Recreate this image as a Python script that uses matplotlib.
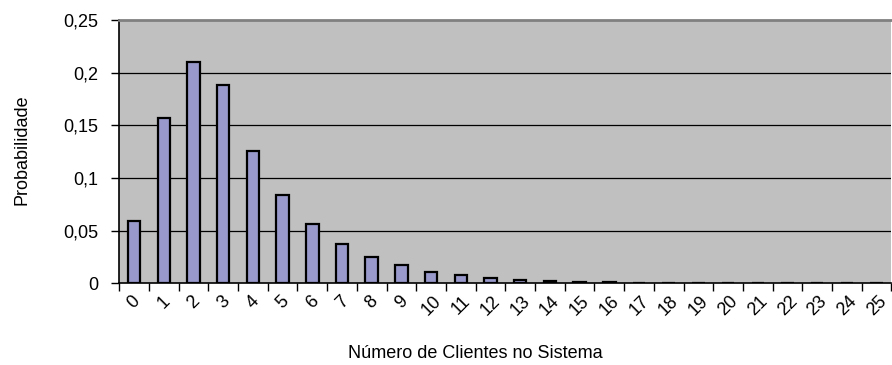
import numpy as np
import matplotlib.pyplot as plt
from matplotlib.ticker import FixedLocator, FuncFormatter

plt.rcParams["font.family"] = ["Liberation Sans", "DejaVu Sans"]

clientes = list(range(26))
probabilidade = [0.059, 0.157, 0.210, 0.188, 0.126, 0.084, 0.056, 0.037,
                 0.025, 0.017, 0.011, 0.0078, 0.0052, 0.0035, 0.0023, 0.0015,
                 0.0010, 0.0007, 0.00045, 0.0003, 0.0002, 0.00013, 0.00009,
                 0.00006, 0.00004, 0.00003]
y_ticks = [0, 0.05, 0.1, 0.15, 0.2, 0.25]

fig = plt.figure(figsize=(8.92, 3.65), dpi=100)
ax = fig.add_axes([0.1337, 0.2238, 0.8657, 0.7214])
ax.set_facecolor("#C0C0C0")

ax.bar(clientes, probabilidade, width=0.42, color="#9999CC",
       edgecolor="black", linewidth=1.6, zorder=3)

ax.set_xlim(-0.5, 25.5)
ax.set_ylim(0, 0.25)

# horizontal grid
for v in y_ticks[1:-1]:
    ax.axhline(v, color="black", linewidth=0.9, zorder=1)

ax.yaxis.set_major_locator(FixedLocator(y_ticks))
ax.yaxis.set_major_formatter(FuncFormatter(
    lambda v, p: "0" if v == 0 else f"{v:g}".replace(".", ",")))
ax.tick_params(axis="y", direction="out", length=6, width=1,
               labelsize=13, pad=9, colors="black")

# category labels at centres, tick marks between categories
ax.set_xticks(clientes)
ax.set_xticklabels([str(c) for c in clientes], rotation=45,
                   ha="center", va="top")
ax.set_xticks(np.arange(-0.5, 26, 1), minor=True)
ax.tick_params(axis="x", which="major", length=0, labelsize=13, pad=7)
ax.tick_params(axis="x", which="minor", direction="out", length=6, width=1)

for s in ["left", "bottom"]:
    ax.spines[s].set_color("black")
    ax.spines[s].set_linewidth(1.2)
ax.spines["top"].set_color("#808080")
ax.spines["top"].set_linewidth(2)
ax.spines["right"].set_visible(False)

fig.text(22 / 892, 1 - 150 / 365, "Probabilidade", rotation=90,
         ha="center", va="center", fontsize=13)
fig.text(475 / 892, 1 - 353 / 365, "Número de Clientes no Sistema",
         ha="center", va="center", fontsize=13)

fig.savefig("out.png", dpi=100)
